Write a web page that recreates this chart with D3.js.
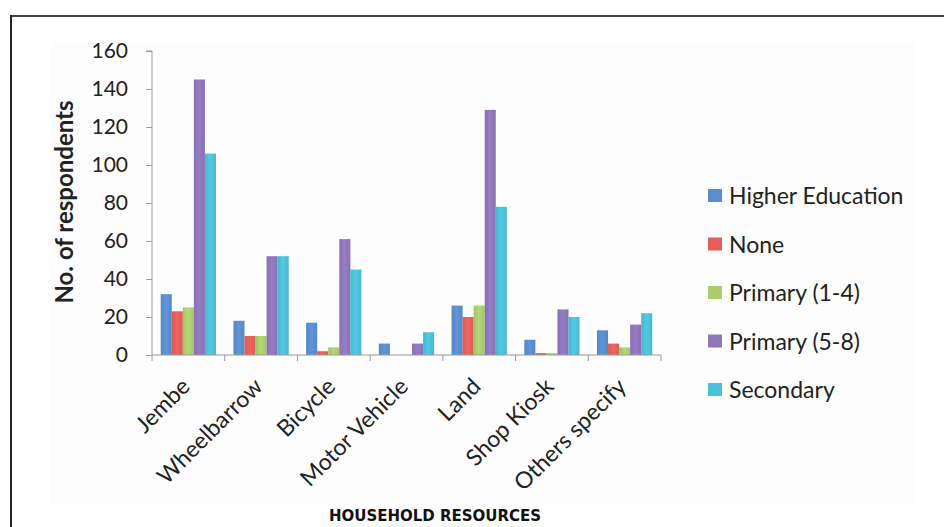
<!DOCTYPE html>
<html>
<head>
<meta charset="utf-8">
<script src="https://cdn.jsdelivr.net/npm/d3@7"></script>
<style>
  html, body { margin: 0; padding: 0; background: #fff; }
  svg { display: block; }
</style>
</head>
<body>
<svg id="chart" width="944" height="527"></svg>
<script>
// Household resources by education level of respondent
const categories = ["Jembe", "Wheelbarrow", "Bicycle", "Motor Vehicle", "Land", "Shop Kiosk", "Others specify"];
const seriesNames = ["Higher Education", "None", "Primary (1-4)", "Primary (5-8)", "Secondary"];
const higherEducation = [32, 18, 17, 6, 26, 8, 13];
const none            = [23, 10, 2, 0, 20, 1, 6];
const primary14       = [25, 10, 4, 0, 26, 1, 4];
const primary58       = [145, 52, 61, 6, 129, 24, 16];
const secondary       = [106, 52, 45, 12, 78, 20, 22];
const yTicks = [0, 20, 40, 60, 80, 100, 120, 140, 160];
const seriesColors = ["#5a8dce", "#e2605a", "#abcd6e", "#8f76bb", "#4cc0d8"];

const seriesValues = [higherEducation, none, primary14, primary58, secondary];

const svg = d3.select("#chart");
const margin = { left: 152, right: 283, top: 51, bottom: 172 };
const W = 944, H = 527;
const plotW = W - margin.left - margin.right;
const plotH = H - margin.top - margin.bottom;
const font = "Lato, 'Open Sans', sans-serif";

// frame lines (top and left) and faint chart-area fill
svg.append("rect").attr("x", 50).attr("y", 42).attr("width", 867).attr("height", 462).attr("fill", "#fdfdfd");
svg.append("line").attr("x1", 11).attr("x2", W).attr("y1", 16).attr("y2", 16)
  .attr("stroke", "#444").attr("stroke-width", 2);
svg.append("line").attr("x1", 11).attr("x2", 11).attr("y1", 15).attr("y2", H)
  .attr("stroke", "#222").attr("stroke-width", 2);

const g = svg.append("g").attr("transform", `translate(${margin.left},${margin.top})`);

const x0 = d3.scaleBand().domain(categories).range([0, plotW]).paddingInner(0.24).paddingOuter(0.12);
const x1 = d3.scaleBand().domain(seriesNames).range([0, x0.bandwidth()]);
const y = d3.scaleLinear().domain([0, 160]).range([plotH, 0]);

// gradients to give bars a soft sheen
const defs = svg.append("defs");
seriesColors.forEach((c, i) => {
  const gr = defs.append("linearGradient").attr("id", "grad" + i)
    .attr("x1", "0%").attr("x2", "100%").attr("y1", "0%").attr("y2", "0%");
  gr.append("stop").attr("offset", "0%").attr("stop-color", d3.color(c).darker(0.15));
  gr.append("stop").attr("offset", "45%").attr("stop-color", d3.color(c).brighter(0.15));
  gr.append("stop").attr("offset", "100%").attr("stop-color", d3.color(c).darker(0.1));
});

// bars
const groups = g.selectAll("g.cat").data(categories).join("g")
  .attr("class", "cat")
  .attr("transform", d => `translate(${x0(d)},0)`);

groups.selectAll("rect").data((d, ci) => seriesNames.map((s, si) => ({ s, si, v: seriesValues[si][ci] })))
  .join("rect")
  .attr("x", d => x1(d.s))
  .attr("width", x1.bandwidth())
  .attr("y", d => y(d.v))
  .attr("height", d => plotH - y(d.v))
  .attr("fill", d => `url(#grad${d.si})`);

// y axis
const yAxis = g.append("g").call(d3.axisLeft(y).tickValues(yTicks).tickSize(6).tickPadding(18));
yAxis.select(".domain").attr("stroke", "#9a9a9a").attr("d", `M-6,0H0V${plotH}`);
yAxis.selectAll(".tick line").attr("stroke", "#9a9a9a");
yAxis.selectAll(".tick text").attr("font-family", font)
  .attr("font-size", 21).attr("fill", "#222");

// x axis with ticks at category boundaries
const xAxisG = g.append("g").attr("transform", `translate(0,${plotH})`);
xAxisG.append("line").attr("x1", 0).attr("x2", plotW).attr("stroke", "#9a9a9a");
const step = plotW / categories.length;
xAxisG.selectAll("line.tk").data(d3.range(categories.length + 1)).join("line")
  .attr("class", "tk")
  .attr("x1", i => i * step).attr("x2", i => i * step)
  .attr("y1", 0).attr("y2", 6).attr("stroke", "#9a9a9a");
xAxisG.selectAll("text").data(categories).join("text")
  .attr("transform", d => `translate(${x0(d) + x0.bandwidth() / 2 + 3},${33}) rotate(-45)`)
  .attr("text-anchor", "end")
  .attr("font-family", font)
  .attr("font-size", 23)
  .attr("fill", "#222")
  .text(d => d);

// y axis title
svg.append("text")
  .attr("transform", `translate(73,202) rotate(-90)`)
  .attr("text-anchor", "middle")
  .attr("font-family", font)
  .attr("font-weight", "bold")
  .attr("font-size", 24)
  .attr("fill", "#222")
  .text("No. of respondents");

// legend
const legend = svg.append("g").attr("transform", "translate(708,196)");
const rows = legend.selectAll("g").data(seriesNames).join("g")
  .attr("transform", (d, i) => `translate(0,${i * 48.5})`);
rows.append("rect").attr("x", 0).attr("y", -7).attr("width", 14).attr("height", 13)
  .attr("fill", (d, i) => seriesColors[i]);
rows.append("text").attr("x", 21).attr("y", 0).attr("dy", "0.35em")
  .attr("font-family", font)
  .attr("font-size", 23)
  .attr("fill", "#222")
  .text(d => d);

// x axis title
svg.append("text")
  .attr("x", 435).attr("y", 521)
  .attr("text-anchor", "middle")
  .attr("font-family", "'DejaVu Sans', sans-serif")
  .attr("font-weight", "bold")
  .attr("font-size", 15)
  .attr("fill", "#111")
  .text("HOUSEHOLD RESOURCES");
</script>
</body>
</html>
